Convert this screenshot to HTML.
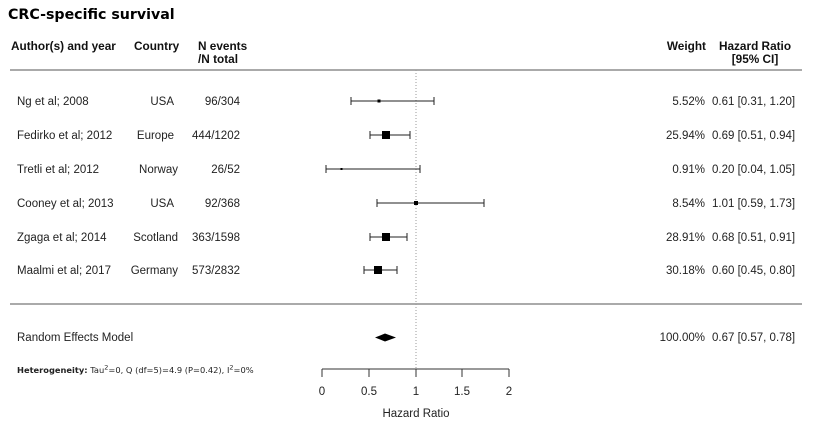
<!DOCTYPE html>
<html><head><style>
body{margin:0;background:#fff;}
svg text{font-family:"Liberation Sans",sans-serif;}
.b{font-family:"DejaVu Sans",sans-serif;font-weight:bold;}
.d{font-family:"DejaVu Sans",sans-serif;}
</style></head><body>
<svg width="816" height="424" xmlns="http://www.w3.org/2000/svg">
<text x="8" y="19" class="b" font-size="14.2">CRC-specific survival</text>
<g class="b" font-size="11.8" fill="#111">
<text x="11" y="50">Author(s) and year</text>
<text x="134" y="50">Country</text>
<text x="198" y="50">N events</text>
<text x="198" y="63">/N total</text>
<text x="706" y="50" text-anchor="end">Weight</text>
<text x="755" y="50" text-anchor="middle">Hazard Ratio</text>
<text x="755" y="63" text-anchor="middle">[95% CI]</text>
</g>
<line x1="10" y1="70" x2="802" y2="70" stroke="#555" stroke-width="1"/>
<line x1="10" y1="304" x2="802" y2="304" stroke="#555" stroke-width="1"/>
<line x1="416" y1="70" x2="416" y2="369" stroke="#999" stroke-dasharray="1,2"/>
<g font-size="11.5" fill="#222">
<text x="17" y="105">Ng et al; 2008</text><text x="174" y="105" text-anchor="end">USA</text><text x="240" y="105" text-anchor="end">96/304</text>
<text x="17" y="139">Fedirko et al; 2012</text><text x="174" y="139" text-anchor="end">Europe</text><text x="240" y="139" text-anchor="end">444/1202</text>
<text x="17" y="173">Tretli et al; 2012</text><text x="178" y="173" text-anchor="end">Norway</text><text x="240" y="173" text-anchor="end">26/52</text>
<text x="17" y="207">Cooney et al; 2013</text><text x="174" y="207" text-anchor="end">USA</text><text x="240" y="207" text-anchor="end">92/368</text>
<text x="17" y="241">Zgaga et al; 2014</text><text x="178" y="241" text-anchor="end">Scotland</text><text x="240" y="241" text-anchor="end">363/1598</text>
<text x="17" y="274">Maalmi et al; 2017</text><text x="178" y="274" text-anchor="end">Germany</text><text x="240" y="274" text-anchor="end">573/2832</text>
<text x="17" y="341">Random Effects Model</text>
<text x="705" y="105" text-anchor="end">5.52%</text><text x="712" y="105">0.61 [0.31, 1.20]</text>
<text x="705" y="139" text-anchor="end">25.94%</text><text x="712" y="139">0.69 [0.51, 0.94]</text>
<text x="705" y="173" text-anchor="end">0.91%</text><text x="712" y="173">0.20 [0.04, 1.05]</text>
<text x="705" y="207" text-anchor="end">8.54%</text><text x="712" y="207">1.01 [0.59, 1.73]</text>
<text x="705" y="241" text-anchor="end">28.91%</text><text x="712" y="241">0.68 [0.51, 0.91]</text>
<text x="705" y="274" text-anchor="end">30.18%</text><text x="712" y="274">0.60 [0.45, 0.80]</text>
<text x="705" y="341" text-anchor="end">100.00%</text><text x="712" y="341">0.67 [0.57, 0.78]</text>
</g>
<text x="17" y="373" font-size="8.3" fill="#222" class="d"><tspan class="b">Heterogeneity:</tspan> Tau<tspan dy="-3.5" font-size="6.5">2</tspan><tspan dy="3.5">=0, Q (df=5)=4.9 (P=0.42), I</tspan><tspan dy="-3.5" font-size="6.5">2</tspan><tspan dy="3.5">=0%</tspan></text>
<g stroke="#222" stroke-width="1">
<line x1="351" y1="101" x2="434" y2="101"/><line x1="351" y1="97" x2="351" y2="105"/><line x1="434" y1="97" x2="434" y2="105"/>
<line x1="370" y1="135" x2="410" y2="135"/><line x1="370" y1="131" x2="370" y2="139"/><line x1="410" y1="131" x2="410" y2="139"/>
<line x1="326" y1="169" x2="420" y2="169"/><line x1="326" y1="165" x2="326" y2="173"/><line x1="420" y1="165" x2="420" y2="173"/>
<line x1="377" y1="203" x2="484" y2="203"/><line x1="377" y1="199" x2="377" y2="207"/><line x1="484" y1="199" x2="484" y2="207"/>
<line x1="370" y1="237" x2="407" y2="237"/><line x1="370" y1="233" x2="370" y2="241"/><line x1="407" y1="233" x2="407" y2="241"/>
<line x1="364" y1="270" x2="397" y2="270"/><line x1="364" y1="266" x2="364" y2="274"/><line x1="397" y1="266" x2="397" y2="274"/>
</g>
<g fill="#000">
<rect x="377.5" y="99.5" width="3" height="3"/>
<rect x="382" y="131" width="8" height="8"/>
<rect x="340.5" y="168" width="2" height="2"/>
<rect x="414" y="201" width="4" height="4"/>
<rect x="382" y="233" width="8" height="8"/>
<rect x="374" y="266" width="8" height="8"/>
<polygon points="375,337.5 385,333.5 396,337.5 385,341.5"/>
</g>
<g stroke="#333" stroke-width="1">
<line x1="322" y1="369" x2="509" y2="369"/>
<line x1="322" y1="369" x2="322" y2="377"/><line x1="369" y1="369" x2="369" y2="377"/><line x1="416" y1="369" x2="416" y2="377"/><line x1="462" y1="369" x2="462" y2="377"/><line x1="509" y1="369" x2="509" y2="377"/>
</g>
<g font-size="11.5" fill="#222" text-anchor="middle">
<text x="322" y="395">0</text><text x="369" y="395">0.5</text><text x="416" y="395">1</text><text x="462" y="395">1.5</text><text x="509" y="395">2</text>
<text x="416" y="417">Hazard Ratio</text>
</g>
</svg>
</body></html>
